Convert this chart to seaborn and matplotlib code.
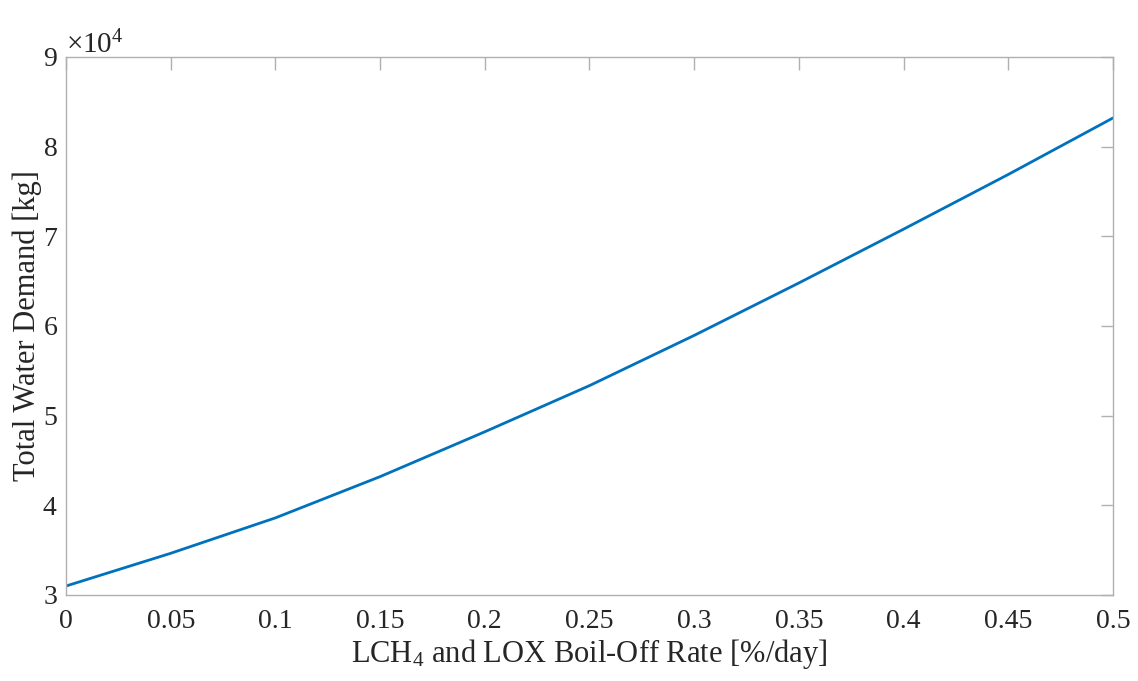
import numpy as np
import pandas as pd
import matplotlib
matplotlib.use("Agg")
import matplotlib.pyplot as plt
import matplotlib.ticker as mticker
import seaborn as sns

# ======================================
# Data
# ======================================

boil_off_rate = [0.0, 0.05, 0.10, 0.15, 0.20, 0.25, 0.30, 0.35, 0.40, 0.45, 0.50]
water_demand = [31000, 34650, 38600, 43200, 48200, 53350, 58950, 64800, 70800, 76900, 83200]

x_ticks = [0, 0.05, 0.1, 0.15, 0.2, 0.25, 0.3, 0.35, 0.4, 0.45, 0.5]
x_tick_labels = ["0", "0.05", "0.1", "0.15", "0.2", "0.25", "0.3", "0.35", "0.4", "0.45", "0.5"]

df = pd.DataFrame({"rate": boil_off_rate, "water": water_demand})

# ======================================
# Style
# ======================================

sns.set_theme(style="white")
plt.rcParams["font.family"] = ["Liberation Serif", "DejaVu Serif"]
plt.rcParams["mathtext.fontset"] = "custom"
plt.rcParams["mathtext.rm"] = "Liberation Serif"
plt.rcParams["mathtext.it"] = "Liberation Serif:italic"
plt.rcParams["mathtext.bf"] = "Liberation Serif:bold"

text_color = "#262626"
axis_color = "#b0b0b0"

# ======================================
# Plot
# ======================================

fig = plt.figure(figsize=(11.38, 6.81), dpi=100)
ax = fig.add_axes([0.058, 0.1263, 0.920, 0.790])

sns.lineplot(data=df, x="rate", y="water", ax=ax, color="#0072BD", linewidth=2.0)

ax.set_xlim(0, 0.5)
ax.set_ylim(30000, 90000)
ax.set_xticks(x_ticks)
ax.set_xticklabels(x_tick_labels)

fmt = mticker.ScalarFormatter(useMathText=True)
fmt.set_powerlimits((0, 0))
ax.yaxis.set_major_formatter(fmt)
ax.yaxis.set_major_locator(mticker.MultipleLocator(10000))
ax.yaxis.get_offset_text().set_fontsize(21)
ax.yaxis.get_offset_text().set_color(text_color)

for side in ["left", "right", "top", "bottom"]:
    ax.spines[side].set_visible(True)
    ax.spines[side].set_color(axis_color)
    ax.spines[side].set_linewidth(1.0)

ax.tick_params(
    direction="in",
    top=True,
    right=True,
    length=9,
    width=1.0,
    color=axis_color,
    labelsize=20,
    labelcolor=text_color,
)
ax.tick_params(axis="x", pad=10)
ax.tick_params(axis="y", pad=6)

ax.set_xlabel("LCH$_4$ and LOX Boil-Off Rate [%/day]", fontsize=22, color=text_color, labelpad=2)
ax.set_ylabel("Total Water Demand [kg]", fontsize=22, color=text_color, labelpad=0)

plt.savefig("out.png", dpi=100)
